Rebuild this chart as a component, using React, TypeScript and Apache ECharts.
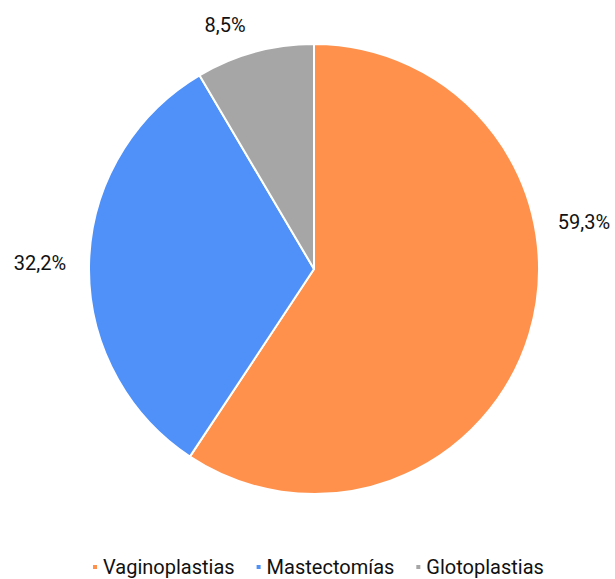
import React, { useEffect, useRef } from "react";
import * as echarts from "echarts";

const categories = ["Vaginoplastias", "Mastectomías", "Glotoplastias"];
const values = [59.3, 32.2, 8.5];
const labels = ["59,3%", "32,2%", "8,5%"];
const colors = ["#FF914D", "#4F91F8", "#A6A6A6"];
const labelPos = [
  [584, 222],
  [40, 263],
  [225, 25],
];

export default function App() {
  const ref = useRef<HTMLDivElement>(null);
  useEffect(() => {
    if (!ref.current) return;
    const chart = echarts.init(ref.current, null, { renderer: "svg" });
    const font = "Roboto, 'Noto Sans', sans-serif";
    chart.setOption({
      animation: false,
      color: colors,
      legend: {
        bottom: -3,
        left: 86,
        itemWidth: 6,
        itemHeight: 6,
        itemGap: 20,
        icon: "rect",
        textStyle: { fontFamily: font, fontSize: 20, color: "#111" },
        data: categories,
      },
      series: [
        {
          type: "pie",
          center: [314, 269],
          radius: 225,
          startAngle: 90,
          clockwise: true,
          itemStyle: { borderColor: "#fff", borderWidth: 2 },
          label: {
            show: true,
            position: "outside",
            formatter: (p: any) => labels[p.dataIndex],
            fontFamily: font,
            fontSize: 20,
            color: "#111",
            overflow: "none",
            width: 100,
          },
          labelLine: { show: false },
          labelLayout: (p: any) => ({
            x: labelPos[p.dataIndex][0],
            y: labelPos[p.dataIndex][1],
            align: "center",
            verticalAlign: "middle",
          }),
          data: categories.map((c, i) => ({ name: c, value: values[i] })),
        },
      ],
    });
    return () => chart.dispose();
  }, []);
  return (
    <div
      ref={ref}
      style={{ position: "fixed", left: 0, top: 0, width: 615, height: 579, background: "#fff" }}
    />
  );
}
